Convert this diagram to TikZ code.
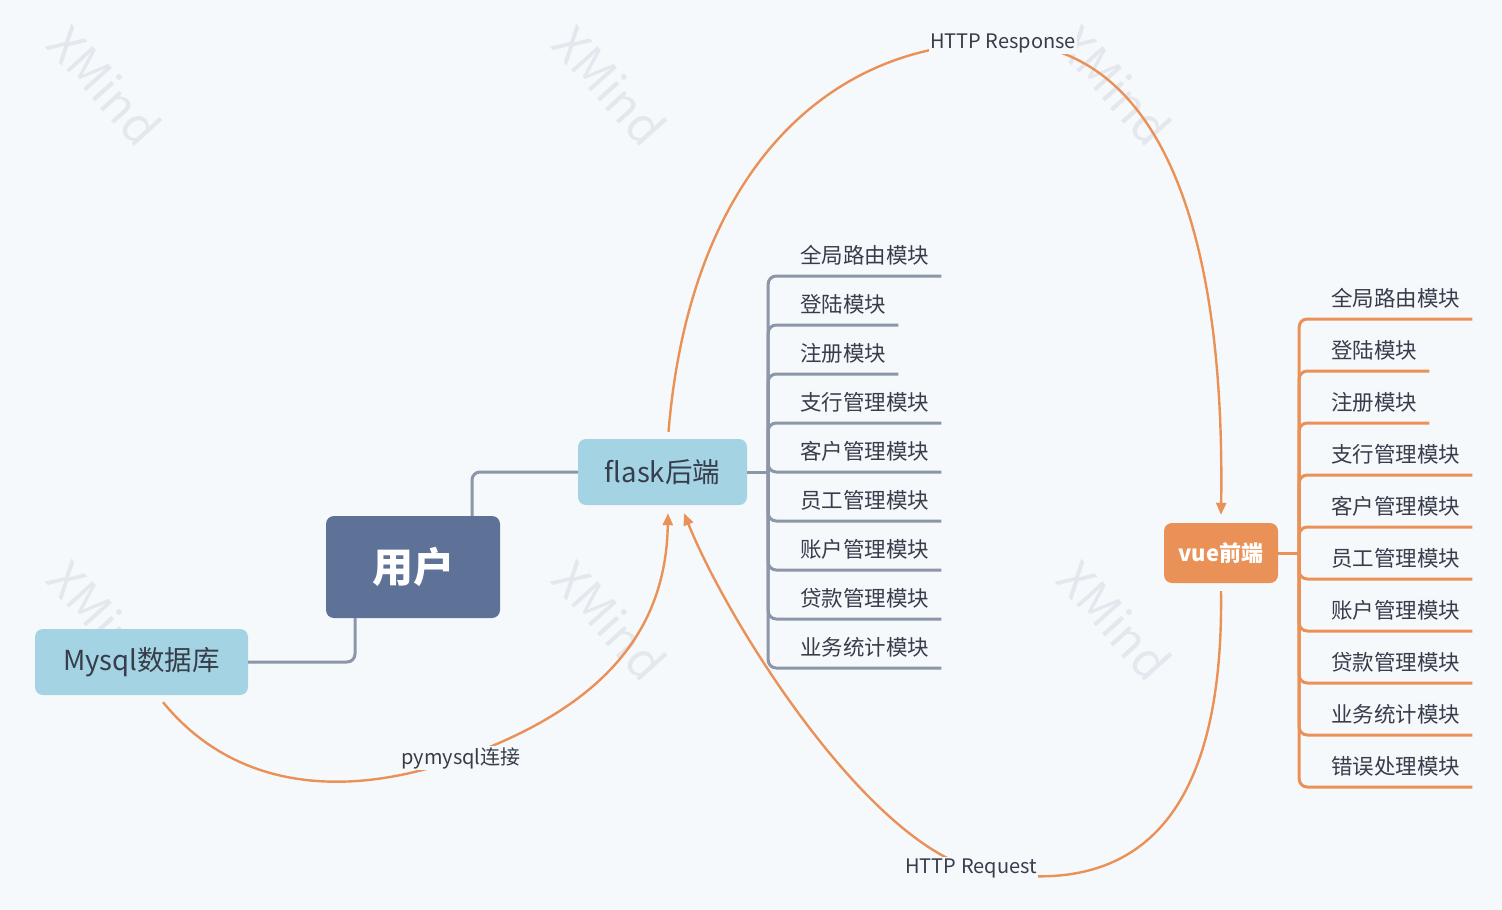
\documentclass[tikz,border=0pt]{standalone}
\usepackage{fontspec}
\setmainfont{Noto Sans CJK SC}
\usepackage{xcolor}
\usetikzlibrary{arrows.meta}
\definecolor{paper}{HTML}{F6F9FC}
\definecolor{slate}{HTML}{5E7298}
\definecolor{skyblue}{HTML}{A4D3E4}
\definecolor{carrot}{HTML}{EA9157}
\definecolor{linegray}{HTML}{8C96A8}
\definecolor{inkgray}{HTML}{373D4A}
\definecolor{wmgray}{HTML}{E4E8EE}

\begin{document}
\begin{tikzpicture}[x=1pt,y=-1pt,
  topic/.style={rounded corners=8pt, inner sep=0pt, text=inkgray,
    fill=skyblue, font=\fontsize{27.5}{32}\selectfont},
  subtopic/.style={inner sep=0pt, text=inkgray, font=\fontsize{21.5}{25}\selectfont},
  graybranch/.style={draw=linegray, line width=3pt, rounded corners=8pt},
  orangebranch/.style={draw=carrot, line width=3pt, rounded corners=8pt},
  rel/.style={draw=carrot, line width=2.4pt, -{Triangle[length=12pt,width=10pt]}},
  rellabel/.style={fill=paper, inner sep=1pt, text=inkgray,
    font=\fontsize{20}{24}\selectfont},
  wm/.style={text=wmgray, rotate=-48, font=\fontsize{48}{50}\selectfont}]

% Background
\fill[paper] (0,0) rectangle (1502,910);
\useasboundingbox (0,0) rectangle (1502,910);

% Watermark
\foreach \wx/\wy in {105/85, 610/85, 1115/85, 105/620, 610/620, 1115/620}
  \node[wm] at (\wx,\wy) {XMind};

% Topics
\node[topic, fill=slate, text=white, minimum width=174pt, minimum height=102pt,
  font=\fontsize{41}{46}\selectfont\bfseries] (user) at (413,567) {用户};
\node[topic, minimum width=169pt, minimum height=66pt] (flask) at (662.5,472) {flask后端};
\node[topic, minimum width=213pt, minimum height=66pt] (mysql) at (141.5,662) {Mysql数据库};
\node[topic, fill=carrot, text=white, minimum width=114pt, minimum height=60pt,
  font=\fontsize{22}{26}\selectfont\bfseries] (vue) at (1221,553) {vue前端};

% Links of the central topic
\draw[graybranch] ([xshift=59pt]user.north) |- (flask.west);
\draw[graybranch] ([xshift=-58pt]user.south) |- (mysql.east);

% Backend modules
\coordinate (fk) at ([xshift=21pt]flask.east);
\draw[graybranch] (flask.east) -- (fk);
\foreach \txt [count=\i] in {全局路由模块, 登陆模块, 注册模块, 支行管理模块, 客户管理模块,
    员工管理模块, 账户管理模块, 贷款管理模块, 业务统计模块} {
  \node[subtopic, anchor=base west] (f\i) at (800,{263+49*(\i-1)}) {\txt};
  \draw[graybranch] (fk) |- ([xshift=12pt,yshift=-13pt]f\i.base east);
}

% Frontend modules
\coordinate (vk) at ([xshift=21pt]vue.east);
\draw[orangebranch] (vue.east) -- (vk);
\foreach \txt [count=\i] in {全局路由模块, 登陆模块, 注册模块, 支行管理模块, 客户管理模块,
    员工管理模块, 账户管理模块, 贷款管理模块, 业务统计模块, 错误处理模块} {
  \node[subtopic, anchor=base west] (v\i) at (1331,{306+52*(\i-1)}) {\txt};
  \draw[orangebranch] (vk) |- ([xshift=12pt,yshift=-13pt]v\i.base east);
}

% Relationships
\draw[rel] ([xshift=6pt,yshift=7pt]flask.north)
  .. controls (690,170) and (830,40) .. (1003,43) node[rellabel] (resp) {HTTP Response}
  .. controls (1130,42) and (1226,170) .. ([yshift=8pt]vue.north);
\draw[rel] ([yshift=-8pt]vue.south)
  .. controls (1224,820) and (1135,905) .. (971,868) node[rellabel] (req) {HTTP Request}
  .. controls (862,834) and (729,624) .. ([xshift=21.5pt,yshift=-8pt]flask.south);
\draw[rel] ([xshift=21.5pt,yshift=-7pt]mysql.south)
  .. controls (234,789) and (344,800) .. (461,758) node[rellabel] (conn) {pymysql连接}
  .. controls (601,708) and (666,633) .. ([xshift=5.5pt,yshift=-8pt]flask.south);

\end{tikzpicture}
\end{document}
